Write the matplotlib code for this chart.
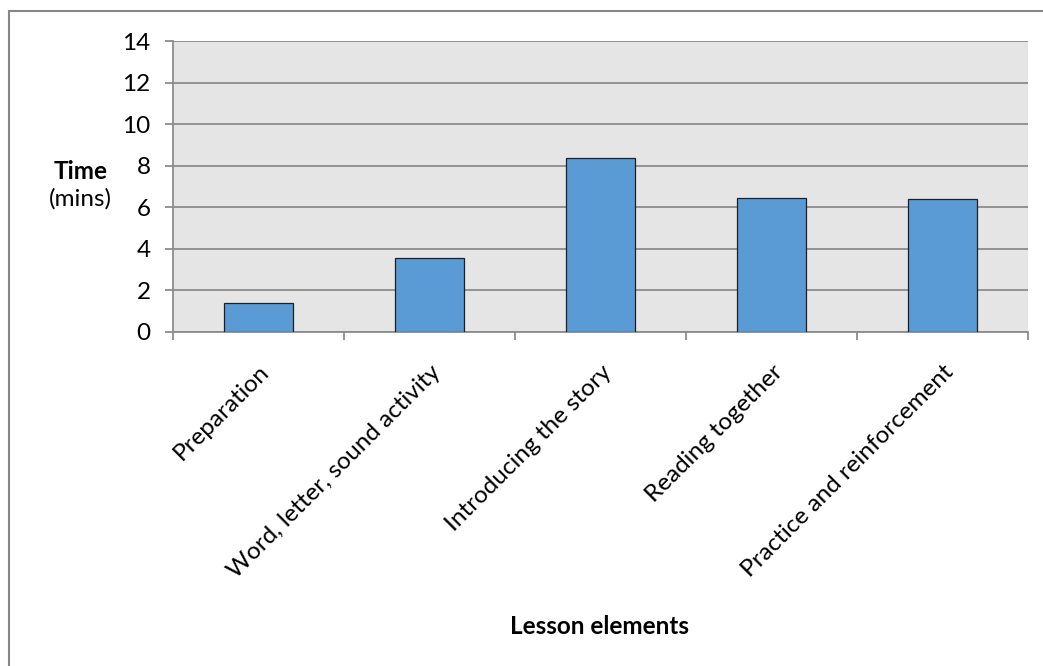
import matplotlib.pyplot as plt
from matplotlib.patches import Rectangle

categories = ["Preparation", "Word, letter, sound activity", "Introducing the story",
              "Reading together", "Practice and reinforcement"]
minutes = [1.38, 3.54, 8.39, 6.45, 6.39]
y_ticks = [0, 2, 4, 6, 8, 10, 12, 14]

plt.rcParams["font.family"] = ["Lato", "DejaVu Sans"]
FS = 17.5

W, H = 1043, 666
fig = plt.figure(figsize=(W / 100, H / 100), dpi=100)
ax = fig.add_axes([173 / W, 1 - 332 / H, (1028 - 173) / W, (332 - 41) / H])

ax.set_facecolor("#e5e5e5")
x = list(range(len(categories)))
ax.bar(x, minutes, width=0.4, color="#5b9bd5", edgecolor="#1f1f1f", linewidth=0.9, zorder=3)

ax.set_xlim(-0.5, len(categories) - 0.5)
ax.set_ylim(0, 14)
ax.set_yticks(y_ticks)
ax.grid(axis="y", color="#8c8c8c", linewidth=1.3, zorder=1)

ax.set_xticks([i - 0.5 for i in range(len(categories) + 1)])
ax.set_xticklabels([])
ax.set_xticks(x, minor=True)
ax.set_xticklabels(categories, minor=True, rotation=45, ha="right", va="top",
                   rotation_mode="anchor", fontsize=FS)
ax.tick_params(axis="x", which="minor", length=0, pad=21)
ax.tick_params(axis="x", which="major", length=6, color="#8c8c8c", width=1.3)
ax.tick_params(axis="y", length=6, color="#8c8c8c", width=1.3, labelsize=FS, pad=10)
for lbl in ax.get_xticklabels(minor=True):
    lbl.set_x(lbl.get_position()[0])

for side in ["top", "right"]:
    ax.spines[side].set_visible(False)
for side in ["left", "bottom"]:
    ax.spines[side].set_color("#8c8c8c")
    ax.spines[side].set_linewidth(1.3)

fig.text(81 / W, 1 - 172 / H, "Time", ha="center", va="center", fontsize=FS, fontweight="bold")
fig.text(80 / W, 1 - 199 / H, "(mins)", ha="center", va="center", fontsize=FS)
fig.text(600 / W, 1 - 626 / H, "Lesson elements", ha="center", va="center",
         fontsize=FS, fontweight="bold")

# outer chart border, only left and top edges fall inside the picture
fig.patches.append(Rectangle((9 / W, -0.2), 2, 1 - 11 / H + 0.2, transform=fig.transFigure,
                             fill=False, edgecolor="#868686", linewidth=1.5))

fig.savefig("out.png", dpi=100)
